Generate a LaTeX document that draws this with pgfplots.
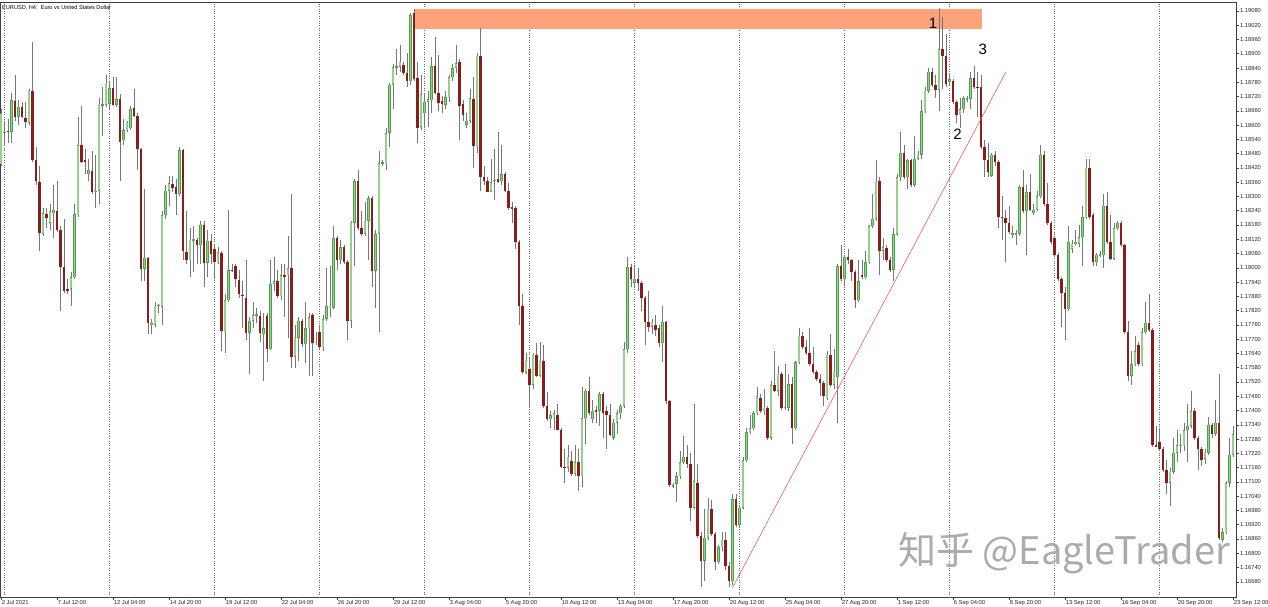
\documentclass[border=0pt]{standalone}
\usepackage{pgfplots}
\pgfplotsset{compat=1.18}
\usepackage{pgfplotstable}
\usepackage{fontspec}
\setmainfont{Liberation Sans}
\newfontfamily\cjk{Noto Sans CJK SC}
\definecolor{bullEdge}{RGB}{78,160,78}
\definecolor{bullFill}{RGB}{146,210,138}
\definecolor{bear}{RGB}{139,28,28}
\definecolor{wick}{RGB}{118,118,118}
\definecolor{zone}{RGB}{252,163,124}
\definecolor{tline}{RGB}{228,96,96}
% prices stored in points above 1.16000 (e.g. 3080 = 1.19080)
\pgfplotstableread{
i o h l c
0 2436 2666 2428 2650
1 2568 2618 2515 2571
2 2576 2626 2523 2573
3 2571 2737 2523 2705
4 2701 2809 2618 2634
5 2634 2705 2602 2677
6 2677 2698 2630 2634
7 2630 2698 2586 2612
8 2610 2753 2602 2745
9 2742 2951 2444 2455
10 2455 2507 2348 2364
11 2359 2428 2071 2147
12 2142 2253 2134 2229
13 2225 2253 2166 2209
14 2190 2269 2158 2237
15 2229 2348 2126 2245
16 2237 2364 2150 2161
17 2158 2174 1817 2002
18 2002 2206 1896 1904
19 1909 1952 1888 1905
20 1912 1983 1841 1960
21 1960 2269 1952 2225
22 2221 2634 2213 2515
23 2515 2682 2440 2444
24 2452 2499 2396 2448
25 2393 2459 2364 2412
26 2407 2491 2309 2317
27 2317 2475 2253 2325
28 2325 2713 2269 2690
29 2685 2761 2555 2688
30 2685 2809 2674 2774
31 2690 2785 2666 2756
32 2758 2801 2682 2686
33 2685 2801 2674 2709
34 2709 2729 2364 2531
35 2536 2626 2515 2578
36 2578 2618 2571 2610
37 2586 2682 2578 2666
38 2671 2753 2634 2639
39 2639 2650 2412 2499
40 2499 2505 1944 1996
41 1996 2332 1944 2042
42 2042 2047 1721 1766
43 1761 1785 1721 1769
44 1761 1856 1753 1841
45 1841 1848 1809 1843
46 1837 2237 1761 2221
47 2221 2348 2206 2325
48 2325 2388 2261 2356
49 2352 2388 2317 2336
50 2340 2372 2221 2309
51 2309 2507 2301 2494
52 2494 2499 2031 2071
53 2066 2237 2015 2031
54 2031 2166 1960 2118
55 2113 2174 1983 2123
56 2118 2126 2015 2094
57 2094 2198 2015 2182
58 2179 2198 1920 2020
59 2020 2158 1960 2113
60 2113 2142 2015 2060
61 2079 2102 1952 2023
62 2023 2087 2015 2066
63 2063 2071 1650 1733
64 1729 1888 1642 1864
65 1864 2245 1856 1991
66 1991 2015 1983 1989
67 2007 2015 1920 1952
68 1948 1991 1872 1888
69 1885 1944 1745 1883
70 1875 2031 1698 1726
71 1726 1793 1555 1777
72 1777 1856 1745 1801
73 1801 1833 1769 1803
74 1798 1817 1690 1726
75 1721 1809 1523 1745
76 1796 1809 1602 1658
77 1658 2031 1653 1933
78 1933 2047 1904 1944
79 1944 1991 1872 1880
80 1880 2015 1864 1968
81 1968 2015 1793 1966
82 1968 2134 1706 1999
83 1999 2309 1579 1626
84 1626 1761 1579 1706
85 1706 1793 1610 1777
86 1777 1785 1666 1679
87 1679 1856 1600 1745
88 1745 1809 1547 1793
89 1801 1809 1547 1682
90 1684 1729 1674 1690
91 1729 1761 1658 1666
92 1666 1801 1650 1785
93 1785 1999 1777 1841
94 1833 2007 1793 1841
95 1833 2174 1825 2126
96 2126 2134 1991 2031
97 2031 2118 2015 2087
98 2087 2094 2015 2023
99 2023 2031 1698 1777
100 1777 2198 1745 2190
101 2190 2372 2007 2364
102 2364 2412 2158 2166
103 2166 2237 2134 2142
104 2142 2277 2134 2198
105 2198 2301 2031 2293
106 2293 2301 1920 1987
107 1987 2158 1833 2142
108 2142 2491 1729 2440
109 2440 2452 2428 2444
110 2436 2586 2412 2567
111 2567 2777 2507 2769
112 2769 2856 2666 2844
113 2844 2920 2809 2846
114 2844 2936 2824 2867
115 2851 2864 2809 2817
116 2817 2904 2761 2785
117 2785 3070 2769 3063
118 3070 3090 2785 2793
119 2796 2864 2523 2586
120 2594 2809 2578 2729
121 2650 2729 2586 2698
122 2698 2745 2594 2710
123 2705 2888 2650 2848
124 2848 2970 2729 2737
125 2737 2896 2658 2694
126 2701 2721 2650 2690
127 2685 2745 2666 2717
128 2717 2809 2698 2801
129 2801 2856 2785 2840
130 2840 2936 2817 2859
131 2864 2880 2539 2682
132 2690 2705 2618 2642
133 2602 2650 2586 2618
134 2618 2753 2610 2713
135 2710 2801 2420 2512
136 2507 2904 2483 2891
137 2891 3007 2325 2380
138 2383 2428 2348 2364
139 2364 2380 2317 2320
140 2320 2459 2317 2361
141 2367 2499 2285 2370
142 2372 2571 2356 2361
143 2364 2515 2348 2393
144 2393 2404 2317 2325
145 2325 2356 2245 2253
146 2256 2277 2190 2250
147 2253 2261 2079 2110
148 2110 2118 1761 1841
149 1841 1888 1555 1563
150 1558 1642 1555 1610
151 1574 1626 1412 1507
152 1507 1642 1491 1634
153 1634 1682 1539 1547
154 1547 1690 1539 1610
155 1610 1674 1412 1420
156 1420 1476 1356 1364
157 1364 1396 1325 1380
158 1372 1404 1317 1388
159 1380 1428 1317 1320
160 1320 1325 1158 1161
161 1164 1237 1095 1158
162 1158 1253 1142 1206
163 1187 1230 1126 1134
164 1134 1253 1126 1182
165 1182 1237 1063 1123
166 1123 1499 1079 1368
167 1368 1491 1261 1483
168 1483 1539 1380 1388
169 1364 1444 1349 1399
170 1399 1420 1349 1397
171 1399 1476 1333 1468
172 1468 1476 1285 1388
173 1396 1420 1237 1380
174 1380 1428 1293 1298
175 1285 1364 1277 1349
176 1349 1404 1301 1388
177 1388 1428 1364 1420
178 1420 1690 1412 1658
179 1658 2047 1642 2002
180 2002 2015 1920 1952
181 1936 2007 1920 1955
182 1955 1999 1904 1936
183 1936 1944 1817 1872
184 1872 1880 1674 1774
185 1774 1904 1729 1753
186 1753 1785 1721 1769
187 1761 1801 1714 1737
188 1745 1761 1666 1682
189 1682 1841 1602 1774
190 1774 1777 1428 1441
191 1441 1444 1079 1087
192 1083 1095 1076 1085
193 1091 1142 1015 1123
194 1123 1230 1110 1182
195 1182 1293 1174 1206
196 1203 1253 1158 1177
197 1177 1222 936 992
198 992 1428 984 1103
199 1095 1174 865 872
200 872 888 658 769
201 769 984 682 865
202 865 1031 857 987
203 987 1023 872 880
204 880 888 730 761
205 761 833 753 825
206 825 888 809 857
207 857 888 730 745
208 745 761 660 682
209 682 1047 668 1028
210 1028 1047 912 920
211 920 1000 904 992
212 992 1206 984 1190
213 1190 1325 1182 1309
214 1309 1380 1301 1325
215 1325 1396 1317 1388
216 1388 1499 1380 1460
217 1452 1468 1388 1396
218 1396 1491 1380 1412
219 1412 1420 1277 1285
220 1285 1523 1277 1507
221 1507 1650 1476 1483
222 1483 1587 1460 1555
223 1555 1563 1404 1412
224 1412 1595 1404 1414
225 1412 1555 1396 1510
226 1510 1539 1261 1325
227 1325 1610 1317 1602
228 1602 1745 1595 1714
229 1714 1729 1658 1669
230 1669 1698 1634 1642
231 1642 1745 1587 1595
232 1595 1666 1555 1563
233 1563 1571 1523 1531
234 1531 1555 1460 1515
235 1515 1523 1420 1460
236 1452 1650 1444 1634
237 1634 1721 1499 1507
238 1507 1658 1491 1563
239 1539 2015 1349 2007
240 2007 2094 1944 1952
241 1952 2055 1928 2047
242 2047 2079 2015 2031
243 2031 2039 1944 1983
244 1983 1991 1833 1864
245 1864 2031 1856 1944
246 1971 2031 1952 1960
247 1960 2071 1952 2023
248 2023 2182 2015 2174
249 2174 2309 2166 2206
250 2206 2452 2198 2367
251 2367 2380 1968 2071
252 2071 2126 2031 2087
253 2082 2094 2023 2031
254 2031 2047 1983 1991
255 1991 2166 1944 2142
256 2142 2396 2134 2380
257 2380 2571 2364 2483
258 2483 2515 2372 2380
259 2380 2459 2332 2452
260 2452 2459 2340 2348
261 2348 2555 2340 2459
262 2459 2491 2452 2475
263 2475 2705 2459 2658
264 2658 2761 2650 2745
265 2745 2840 2737 2824
266 2824 2840 2761 2769
267 2769 2809 2713 2748
268 2748 3094 2658 2920
269 2920 3055 2753 2891
270 2891 2983 2761 2774
271 2780 2817 2769 2793
272 2785 2793 2690 2698
273 2698 2705 2610 2642
274 2642 2713 2586 2666
275 2666 2721 2650 2713
276 2710 2721 2698 2713
277 2710 2824 2666 2796
278 2796 2848 2753 2761
279 2761 2824 2634 2759
280 2761 2809 2499 2507
281 2507 2539 2380 2452
282 2452 2523 2380 2404
283 2388 2483 2380 2475
284 2475 2491 2428 2444
285 2444 2452 2166 2213
286 2213 2301 2118 2211
287 2209 2245 2023 2190
288 2190 2261 2142 2150
289 2139 2174 2126 2145
290 2142 2158 2094 2144
291 2142 2348 2134 2340
292 2340 2412 2229 2237
293 2237 2348 2055 2317
294 2317 2396 2237 2245
295 2229 2269 2221 2245
296 2245 2325 2237 2301
297 2301 2515 2293 2475
298 2475 2491 2261 2269
299 2269 2356 2182 2190
300 2190 2198 2102 2110
301 2126 2134 2047 2055
302 2055 2063 1944 1952
303 1952 1960 1753 1896
304 1896 1920 1698 1825
305 1825 2174 1817 2110
306 2079 2118 2063 2102
307 2098 2158 2094 2110
308 2102 2182 2087 2129
309 2129 2261 2007 2213
310 2213 2459 2206 2420
311 2420 2459 2206 2213
312 2221 2229 2007 2023
313 2023 2063 2007 2055
314 2053 2071 2047 2055
315 2053 2309 1999 2261
316 2261 2317 2102 2110
317 2110 2221 2031 2039
318 2039 2190 2031 2166
319 2166 2198 2158 2190
320 2190 2198 2087 2094
321 2094 2102 1721 1729
322 1729 1777 1523 1547
323 1547 1650 1507 1595
324 1595 1714 1587 1650
325 1674 1690 1587 1595
326 1595 1745 1587 1729
327 1729 1856 1721 1769
328 1769 1888 1729 1737
329 1737 1745 1245 1253
330 1253 1333 1245 1251
331 1269 1325 1230 1237
332 1237 1245 1142 1150
333 1150 1190 1047 1095
334 1095 1158 999 1142
335 1142 1285 1134 1222
336 1222 1317 1182 1253
337 1250 1301 1222 1256
338 1253 1349 1230 1317
339 1317 1428 1182 1336
340 1336 1483 1325 1396
341 1396 1412 1277 1285
342 1285 1293 1150 1237
343 1237 1245 1166 1193
344 1198 1237 1174 1222
345 1222 1372 1214 1341
346 1341 1349 1285 1301
347 1301 1444 1293 1349
348 1349 1555 857 865
349 857 904 849 888
350 888 1103 880 1095
351 1095 1285 1079 1214
352 1214 1333 1206 1301
}\candles

\pgfplotsset{candle/.style={only marks, mark=*, mark size=0pt, mark options={draw=none, fill=none}, forget plot}}

\begin{document}
\begin{tikzpicture}
\begin{axis}[
  name=ax,
  scale only axis,
  width=1236pt, height=595pt,
  xmin=-0.286, xmax=352.86,
  ymin=616, ymax=3117.6,
  clip=false,
  axis line style={draw=black!75, line width=0.5pt},
  tick style={draw=black!75, line width=0.5pt},
  major tick length=3pt,
  xtick={0,16,...,352},
  xticklabels={2 Jul 2021, 7 Jul 12:00, 12 Jul 04:00, 14 Jul 20:00, 19 Jul 12:00, 22 Jul 04:00, 26 Jul 20:00, 29 Jul 12:00, 3 Aug 04:00, 5 Aug 20:00, 10 Aug 12:00, 13 Aug 04:00, 17 Aug 20:00, 20 Aug 12:00, 25 Aug 04:00, 27 Aug 20:00, 1 Sep 12:00, 6 Sep 04:00, 8 Sep 20:00, 13 Sep 12:00, 16 Sep 04:00, 20 Sep 20:00, 23 Sep 12:00},
  xtick pos=left, xtick align=outside,
  xticklabel style={anchor=north west, inner sep=0.6pt, font=\fontsize{5.8}{6}\selectfont, text=black!85},
  ytick={680,740,...,3080},
  yticklabels={1.16680,1.16740,1.16800,1.16860,1.16920,1.16980,1.17040,1.17100,1.17160,1.17220,1.17280,1.17340,1.17400,1.17460,1.17520,1.17580,1.17640,1.17700,1.17760,1.17820,1.17880,1.17940,1.18000,1.18060,1.18120,1.18180,1.18240,1.18300,1.18360,1.18420,1.18480,1.18540,1.18600,1.18660,1.18720,1.18780,1.18840,1.18900,1.18960,1.19020,1.19080},
  ytick pos=right, ytick align=outside,
  yticklabel style={anchor=west, inner sep=0.8pt, font=\fontsize{5.8}{6}\selectfont, text=black!85},
  scaled y ticks=false,
  extra x ticks={1,31,...,331},
  extra x tick labels={},
  extra x tick style={grid=major, major tick length=0pt},
  major grid style={dotted, black!60, line width=0.5pt},
]
% resistance zone
\addplot[fill=zone, draw=none, forget plot] coordinates {(118.3,3003) (280.3,3003) (280.3,3089) (118.3,3089)} -- cycle;
% wicks
\addplot[candle,
  error bars/.cd, y dir=both, y explicit, error mark=none,
  error bar style={line width=0.75pt, wick}]
  table[x=i, y expr={(\thisrow{h}+\thisrow{l})/2}, y error expr={(\thisrow{h}-\thisrow{l})/2}] {\candles};
% bull bodies (edge)
\addplot[candle, restrict y to domain=0:5000,
  error bars/.cd, y dir=both, y explicit, error mark=none,
  error bar style={line width=2.7pt, bullEdge}]
  table[x=i, y expr={ifthenelse(\thisrow{c}+0.5>\thisrow{o},(\thisrow{o}+\thisrow{c})/2,-9999)}, y error expr={max(abs(\thisrow{c}-\thisrow{o})/2,2.2)}] {\candles};
% bull bodies (fill)
\addplot[candle, restrict y to domain=0:5000,
  error bars/.cd, y dir=both, y explicit, error mark=none,
  error bar style={line width=1.5pt, bullFill}]
  table[x=i, y expr={ifthenelse(\thisrow{c}+0.5>\thisrow{o},(\thisrow{o}+\thisrow{c})/2,-9999)}, y error expr={max(abs(\thisrow{c}-\thisrow{o})/2-2.4,0.01)}] {\candles};
% bear bodies
\addplot[candle, restrict y to domain=0:5000,
  error bars/.cd, y dir=both, y explicit, error mark=none,
  error bar style={line width=2.7pt, bear}]
  table[x=i, y expr={ifthenelse(\thisrow{o}>\thisrow{c}+0.5,(\thisrow{o}+\thisrow{c})/2,-9999)}, y error expr={max(abs(\thisrow{c}-\thisrow{o})/2,2.2)}] {\candles};
% trend line
\addplot[tline, line width=0.6pt, forget plot] coordinates {(209,655) (287.1,2823)};
% annotations
\node[font=\fontsize{15}{15}\selectfont] at (axis cs:266.3,3028) {1};
\node[font=\fontsize{15}{15}\selectfont] at (axis cs:273.3,2560) {2};
\node[font=\fontsize{15}{15}\selectfont] at (axis cs:280.5,2920) {3};
\node[anchor=base west, inner sep=0pt, font=\cjk\fontsize{38}{40}\selectfont, text=black!33] at (axis cs:256.3,754) {知乎 @EagleTrader};
\end{axis}
\node[anchor=west, inner sep=0pt, font=\fontsize{5.6}{6}\selectfont] at ([xshift=2pt, yshift=-6pt]ax.north west) {EURUSD, H4:\ \ Euro vs United States Dollar};
\pgfresetboundingbox
\path[use as bounding box] ([yshift=-10pt]ax.south west) rectangle ([xshift=32pt, yshift=2pt]ax.north east);
\end{tikzpicture}
\end{document}
